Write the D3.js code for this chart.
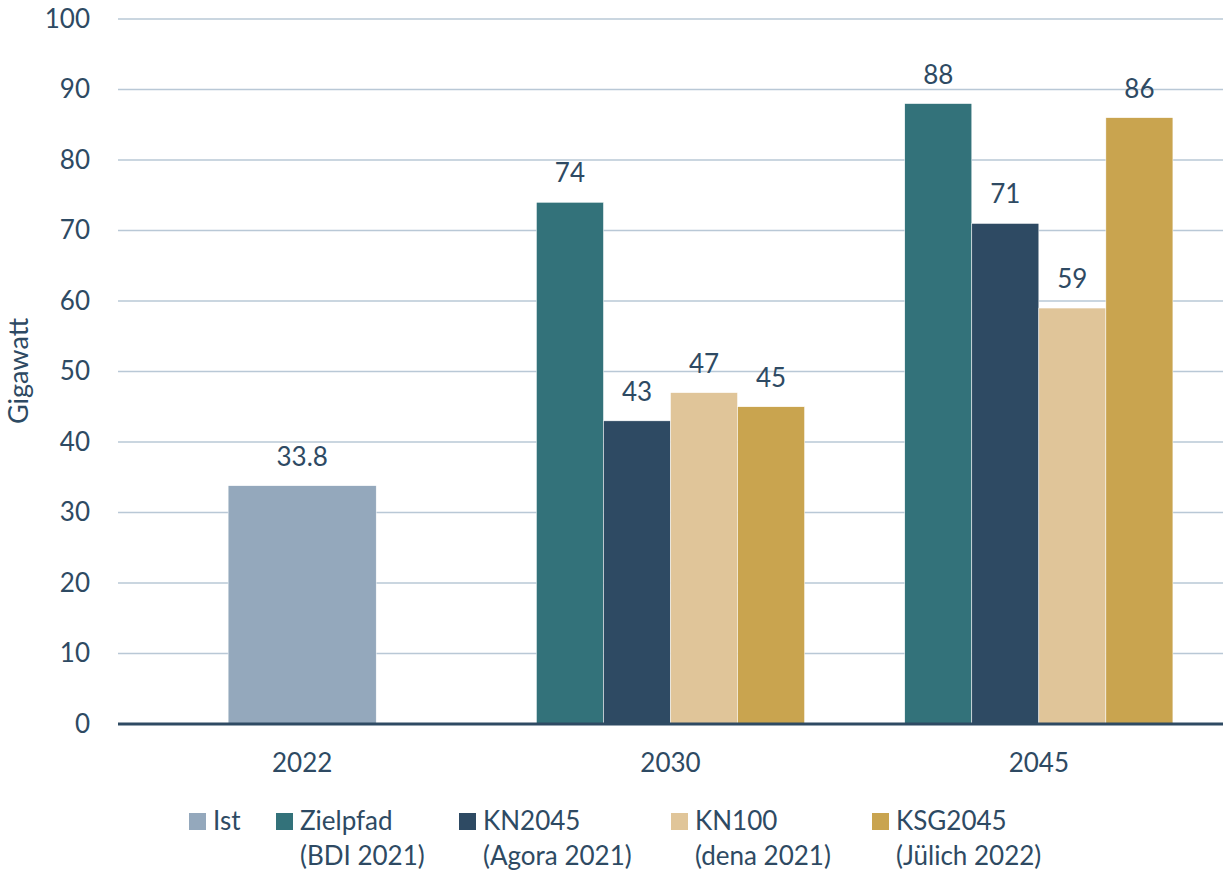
<!DOCTYPE html>
<html>
<head>
<meta charset="utf-8">
<script src="https://cdn.jsdelivr.net/npm/d3@7"></script>
<style>
  body { margin: 0; background: #fff; }
  svg { font-family: Lato, "Open Sans", sans-serif; }
</style>
</head>
<body>
<div id="chart"></div>
<script>
// Data
const years = ["2022", "2030", "2045"];
const seriesNames = ["Ist", "Zielpfad", "KN2045", "KN100", "KSG2045"];
const seriesSub = ["", "(BDI 2021)", "(Agora 2021)", "(dena 2021)", "(Jülich 2022)"];
const seriesColors = ["#94a8bc", "#33727a", "#2e4a63", "#e0c599", "#c9a44f"];
// values per series for each year (null = not present)
const ist = [33.8, null, null];
const zielpfad = [null, 74, 88];
const kn2045 = [null, 43, 71];
const kn100 = [null, 47, 59];
const ksg2045 = [null, 45, 86];
const yTicks = [0, 10, 20, 30, 40, 50, 60, 70, 80, 90, 100];

const seriesValues = [ist, zielpfad, kn2045, kn100, ksg2045];
const textColor = "#2e4a63";
const fontSize = "26px";

const W = 1223, H = 872;
const margin = { top: 19, right: 0, bottom: 148, left: 118 };
const width = W - margin.left - margin.right;
const height = H - margin.top - margin.bottom;

const svg = d3.select("#chart").append("svg")
    .attr("width", W)
    .attr("height", H);

const g = svg.append("g")
    .attr("transform", `translate(${margin.left},${margin.top})`);

const x = d3.scaleBand().domain(years).range([0, width]).padding(0);
const y = d3.scaleLinear().domain([0, 100]).range([height, 0]);

// Gridlines
g.append("g")
    .selectAll("line")
    .data(yTicks.filter(t => t > 0))
    .join("line")
    .attr("x1", 0)
    .attr("x2", width)
    .attr("y1", d => y(d))
    .attr("y2", d => y(d))
    .style("stroke", "#b9c8d6")
    .style("stroke-width", 1.6);

// Y axis labels
const yAxis = g.append("g")
    .call(d3.axisLeft(y).tickValues(yTicks).tickSize(0).tickPadding(28));
yAxis.select(".domain").remove();
yAxis.selectAll("text")
    .style("font-size", fontSize)
    .style("font-family", "Lato, 'Open Sans', sans-serif")
    .style("fill", textColor);

// Bars
const bars = [];
years.forEach((yr, i) => {
    const present = seriesNames.map((s, j) => j).filter(j => seriesValues[j][i] != null);
    const n = present.length;
    const bw = n === 1 ? x.bandwidth() * 0.402 : x.bandwidth() * 0.182;
    const start = x(yr) + x.bandwidth() / 2 - bw * n / 2;
    present.forEach((j, k) => {
        bars.push({ year: yr, series: j, value: seriesValues[j][i], x: start + k * bw, w: bw });
    });
});

g.append("g")
    .selectAll("rect")
    .data(bars)
    .join("rect")
    .attr("x", d => d.x)
    .attr("width", d => d.w)
    .attr("y", d => y(d.value))
    .attr("height", d => y(0) - y(d.value))
    .style("fill", d => seriesColors[d.series])
    .style("stroke", "#ffffff")
    .style("stroke-width", 0.5);

g.append("g")
    .selectAll("text")
    .data(bars)
    .join("text")
    .attr("x", d => d.x + d.w / 2)
    .attr("y", d => y(d.value) - 20)
    .attr("text-anchor", "middle")
    .style("font-size", fontSize)
    .style("fill", textColor)
    .text(d => d.value);

// Baseline
g.append("line")
    .attr("x1", 0)
    .attr("x2", width)
    .attr("y1", y(0))
    .attr("y2", y(0))
    .style("stroke", textColor)
    .style("stroke-width", 3);

// X axis labels
const xAxis = g.append("g")
    .attr("transform", `translate(0,${height})`)
    .call(d3.axisBottom(x).tickSize(0).tickPadding(0));
xAxis.select(".domain").remove();
xAxis.selectAll("text")
    .attr("y", 48)
    .attr("dy", 0)
    .style("font-size", fontSize)
    .style("font-family", "Lato, 'Open Sans', sans-serif")
    .style("fill", textColor);

// Y title
svg.append("text")
    .attr("transform", "rotate(-90)")
    .attr("x", -371)
    .attr("y", 28)
    .attr("text-anchor", "middle")
    .style("font-size", "27px")
    .style("fill", textColor)
    .text("Gigawatt");

// Legend
const legendX = [189, 276, 459, 671, 872];
const legend = svg.append("g");
const items = legend.selectAll("g")
    .data(seriesNames)
    .join("g")
    .attr("transform", (d, i) => `translate(${legendX[i]}, 813)`);

items.append("rect")
    .attr("width", 17)
    .attr("height", 17)
    .style("fill", (d, i) => seriesColors[i]);

items.append("text")
    .attr("x", 24)
    .attr("y", 17)
    .style("font-size", fontSize)
    .style("fill", textColor)
    .text(d => d);

items.append("text")
    .attr("x", 24)
    .attr("y", 52)
    .style("font-size", fontSize)
    .style("fill", textColor)
    .text((d, i) => seriesSub[i]);
</script>
</body>
</html>
